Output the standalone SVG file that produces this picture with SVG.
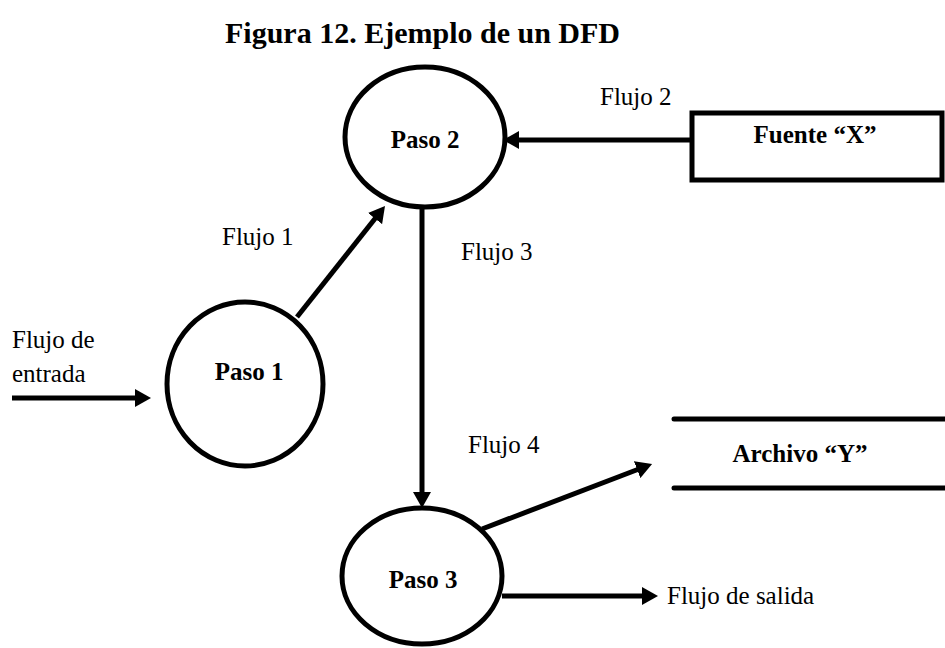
<svg xmlns="http://www.w3.org/2000/svg" width="945" height="648" viewBox="0 0 945 648">
<style>
.shape{fill:#fff;stroke:#000;stroke-width:5}
.line{stroke:#000;stroke-width:5;fill:none}
.t{font-family:"Liberation Serif","Times New Roman",serif;font-size:25px;fill:#000}
.b{font-weight:bold}
</style>
<defs>
<marker id="arr" markerUnits="userSpaceOnUse" markerWidth="18" markerHeight="18" refX="2" refY="9" orient="auto" viewBox="0 0 18 18">
<path d="M0,0 L16,9 L0,18 z" fill="#000"/>
</marker>
</defs>
<rect width="945" height="648" fill="#fff"/>
<text class="t b" x="225" y="43" style="font-size:30px">Figura 12. Ejemplo de un DFD</text>
<g id="connectors">
<line class="line" x1="12" y1="398" x2="137" y2="398" marker-end="url(#arr)"/>
<line class="line" x1="297" y1="317" x2="376.3" y2="217" marker-end="url(#arr)"/>
<line class="line" x1="690" y1="140" x2="517" y2="140" marker-end="url(#arr)"/>
<line class="line" x1="422" y1="207" x2="422" y2="494" marker-end="url(#arr)"/>
<line class="line" x1="482" y1="529" x2="639" y2="469" marker-end="url(#arr)"/>
<line class="line" x1="502" y1="596" x2="644" y2="596" marker-end="url(#arr)"/>
<text class="t" x="600" y="105">Flujo 2</text>
<text class="t" x="222" y="245">Flujo 1</text>
<text class="t" x="461" y="260">Flujo 3</text>
<text class="t" x="12" y="348">Flujo de</text>
<text class="t" x="12" y="382">entrada</text>
<text class="t" x="468" y="453">Flujo 4</text>
<text class="t" x="667" y="604">Flujo de salida</text>
</g>
<g id="paso2">
<ellipse class="shape" cx="425" cy="137" rx="80" ry="70"/>
<text class="t b" x="425" y="148" text-anchor="middle">Paso 2</text>
</g>
<g id="paso1">
<ellipse class="shape" cx="245" cy="384" rx="78" ry="82"/>
<text class="t b" x="249" y="380" text-anchor="middle">Paso 1</text>
</g>
<g id="paso3">
<ellipse class="shape" cx="422" cy="576" rx="80" ry="68"/>
<text class="t b" x="423" y="588" text-anchor="middle">Paso 3</text>
</g>
<g id="fuente">
<rect class="shape" x="692" y="113" width="250" height="67"/>
<text class="t b" x="815" y="143" text-anchor="middle">Fuente “X”</text>
</g>
<g id="archivo">
<line class="line" x1="674" y1="419" x2="945" y2="419" stroke-linecap="round"/>
<line class="line" x1="674" y1="488" x2="945" y2="488" stroke-linecap="round"/>
<text class="t b" x="800" y="462" text-anchor="middle">Archivo “Y”</text>
</g>
</svg>
